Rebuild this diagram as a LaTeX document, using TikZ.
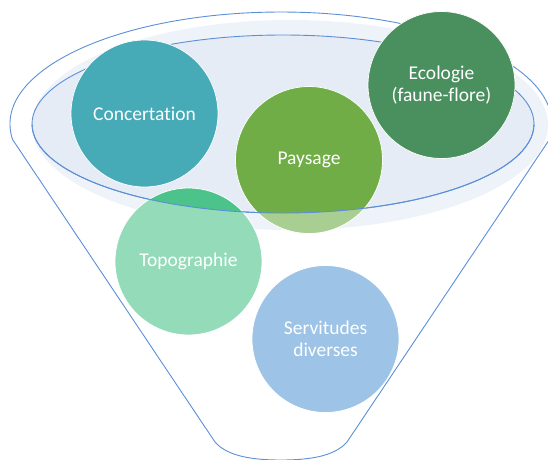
\documentclass[tikz,border=0pt]{standalone}
\usepackage{fontspec}
\setmainfont{Carlito}[Ligatures=NoCommon]
\usepackage{tikz}

\definecolor{bordbleu}{RGB}{91,143,214}
\definecolor{halo}{RGB}{238,242,249}
\definecolor{fondrim}{RGB}{229,236,246}
\definecolor{concert}{RGB}{71,170,183}
\definecolor{paysage}{RGB}{112,173,71}
\definecolor{ecolo}{RGB}{74,143,94}
\definecolor{topo}{RGB}{76,195,138}
\definecolor{servi}{RGB}{91,155,213}

\begin{document}
\begin{tikzpicture}[x=1pt, y=1pt,
    bord/.style={draw=bordbleu, line width=0.9pt},
    bulle/.style={circle, minimum size=147pt, inner sep=0pt, align=center,
        text=white, font=\fontsize{19.5}{22.5}\selectfont,
        draw=white, line width=0.8pt, fill=#1!60,
        path picture={
            \fill[#1] (rim) ellipse [x radius=251, y radius=89];
            \fill[#1] (rim) ++(-300,0) rectangle ++(600,200);
        }}]
    \useasboundingbox (0,0) rectangle (548,-459);
    \coordinate (rim) at (283,-124);
    % halo + ouverture
    \fill[halo] (290,-125) ellipse [x radius=258, y radius=105];
    \fill[fondrim] (rim) ellipse [x radius=251, y radius=89];
    \draw[bord] (rim) ellipse [x radius=251, y radius=89];
    % entonnoir
    \draw[bord]
        (12.6,-139.6) arc [start angle=188, end angle=-8, x radius=271, y radius=112]
        -- (347,-442) .. controls (334,-457) and (307,-460) .. (281,-460)
        .. controls (255,-460) and (228,-457) .. (215,-442) -- cycle;
    \foreach \nom/\x/\y/\couleur/\texte in {
        concertation/144.5/-113.5/concert/Concertation,
        paysage/309/-160/paysage/Paysage,
        ecologie/441.5/-85/ecolo/{Ecologie\\(faune-flore)},
        topographie/188.5/-261.5/topo/Topographie,
        servitudes/325.5/-339/servi/{Servitudes\\diverses}}{
        \node[bulle=\couleur] (\nom) at (\x,\y) {\texte};
    }
    % bord avant
    \draw[bord] (rim) ++(-251,0)
        arc [start angle=180, end angle=360, x radius=251, y radius=89];
\end{tikzpicture}
\end{document}
